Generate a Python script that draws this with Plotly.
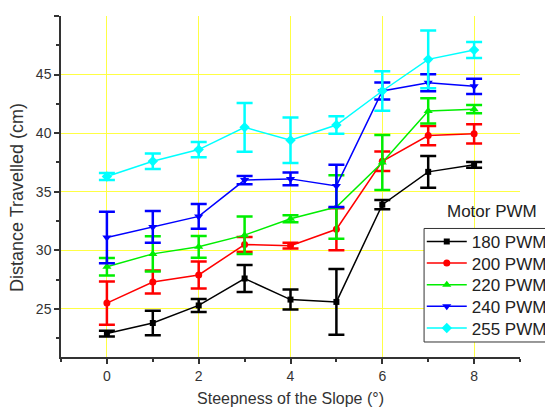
import plotly.graph_objects as go

slope = [0, 1, 2, 3, 4, 5, 6, 7, 8]
pwm180 = [22.9, 23.8, 25.3, 27.6, 25.8, 25.6, 33.9, 36.7, 37.3]
err180 = [0.25, 1.05, 0.55, 1.15, 0.85, 2.8, 0.4, 1.35, 0.25]
pwm200 = [25.5, 27.3, 27.9, 30.5, 30.4, 31.8, 37.6, 39.8, 39.95]
err200 = [1.85, 0.98, 1.15, 0.65, 0.25, 1.8, 0.83, 0.82, 0.82]
pwm220 = [28.6, 29.7, 30.3, 31.3, 32.7, 33.7, 37.5, 41.9, 42.05]
err220 = [0.75, 1.5, 0.92, 1.6, 0.3, 2.7, 2.35, 1.08, 0.35]
pwm240 = [31.1, 32.0, 32.9, 36.0, 36.1, 35.5, 43.6, 44.3, 44.0]
err240 = [2.2, 1.35, 1.05, 0.35, 0.55, 1.8, 0.72, 0.72, 0.65]
pwm255 = [36.3, 37.6, 38.6, 40.5, 39.4, 40.7, 43.6, 46.3, 47.1]
err255 = [0.3, 0.66, 0.65, 2.08, 1.94, 0.75, 1.68, 2.47, 0.69]

names = ["180 PWM", "200 PWM", "220 PWM", "240 PWM", "255 PWM"]
series = [pwm180, pwm200, pwm220, pwm240, pwm255]
errors = [err180, err200, err220, err240, err255]
colors = ["#000000", "#FF0000", "#00EE00", "#0000FF", "#00FFFF"]
symbols = ["square", "circle", "triangle-up", "triangle-down", "diamond"]
msizes = [6, 7, 8, 8, 8]

FONT = "Arial, Liberation Sans, sans-serif"
LEG_IDS = ["legend", "legend2", "legend3", "legend4", "legend5"]
LEG_Y = [0.3375, 0.2741, 0.2107, 0.1473, 0.0839]

fig = go.Figure()
for n, s, e, c, sym, ms, lid in zip(names, series, errors, colors, symbols,
                                     msizes, LEG_IDS):
    fig.add_trace(go.Scatter(
        x=slope, y=s, name=n, mode="lines+markers", legend=lid,
        showlegend=True,
        line=dict(color=c, width=1.5),
        marker=dict(symbol=sym, size=ms, color=c),
        error_y=dict(type="data", array=e, visible=True, color=c,
                     thickness=2.5, width=8),
    ))

axis_common = dict(
    showline=True, linecolor="#333333", linewidth=1.5,
    ticks="outside", ticklen=5, tickwidth=1.5, tickcolor="#333333",
    showgrid=True, gridcolor="#FFFF44", gridwidth=1,
    zeroline=False, mirror=False,
    tickfont=dict(family=FONT, size=14, color="#333333"),
)

fig.update_xaxes(
    range=[-1, 9], dtick=2, tick0=0,
    minor=dict(ticks="outside", ticklen=3, dtick=1, tick0=0,
               tickcolor="#333333", tickwidth=1.5, showgrid=False),
    title=dict(text="Steepness of the Slope (°)",
               font=dict(family=FONT, size=16, color="#333333"), standoff=10),
    **axis_common,
)
fig.update_yaxes(
    range=[20.9, 50], dtick=5, tick0=0,
    minor=dict(ticks="outside", ticklen=3, dtick=2.5, tick0=0,
               tickcolor="#333333", tickwidth=1.5, showgrid=False),
    **axis_common,
)

fig.add_annotation(
    text="Distance Travelled (cm)", textangle=-90,
    xref="paper", yref="paper", x=-0.096, y=0.469,
    xanchor="center", yanchor="middle", showarrow=False,
    font=dict(family=FONT, size=18, color="#333333"),
)
fig.add_annotation(
    text="Motor PWM",
    xref="paper", yref="paper", x=0.938, y=0.4277,
    xanchor="center", yanchor="middle", showarrow=False,
    font=dict(family=FONT, size=17, color="#222222"),
)

# legend frame (runs past the right edge, as in the reference)
fig.add_shape(
    type="rect", xref="paper", yref="paper",
    x0=0.791, x1=1.3, y0=0.044, y1=0.3769,
    line=dict(color="#333333", width=1), fillcolor="white", layer="above",
)

legends = {}
for lid, ly in zip(LEG_IDS, LEG_Y):
    legends[lid] = dict(
        x=0.786, y=ly, xanchor="left", yanchor="middle",
        bgcolor="rgba(0,0,0,0)", borderwidth=0, itemwidth=40,
        font=dict(family=FONT, size=17, color="#222222"),
        visible=True,
    )

# the page adds an 8px body margin, so the figure is 8px smaller and shifted
fig.update_layout(
    width=545, height=405,
    margin=dict(l=53, r=33, t=8, b=56.3, autoexpand=False),
    paper_bgcolor="white", plot_bgcolor="white",
    showlegend=True,
    **legends,
)

fig.write_html("out.html")
